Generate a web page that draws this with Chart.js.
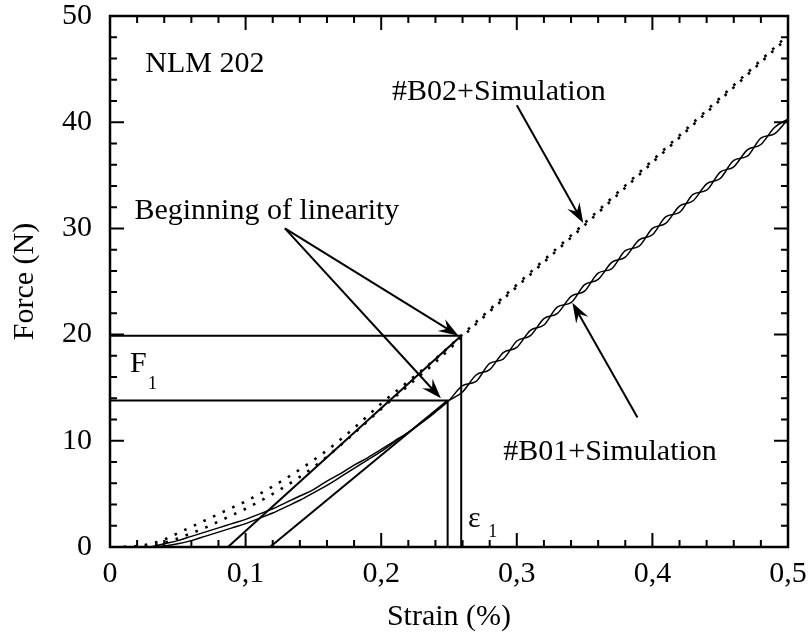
<!DOCTYPE html>
<html>
<head>
<meta charset="utf-8">
<script src="https://cdn.jsdelivr.net/npm/chart.js@4.4.1/dist/chart.umd.min.js"></script>
<style>
    html, body { margin: 0; padding: 0; background: #fff; }
    #chartContainer { width: 811px; height: 637px; position: relative; }
</style>
</head>
<body>
<div id="chartContainer"><canvas id="chartCanvas"></canvas></div>
<script>
// ---- readings from the figure: strain (%) vs force (N) ----
const strainB02 = [0.010, 0.020, 0.030, 0.040, 0.050, 0.060, 0.070, 0.080, 0.090, 0.100,
                   0.120, 0.140, 0.160, 0.180, 0.200, 0.220, 0.240, 0.259, 0.300, 0.350,
                   0.400, 0.450, 0.500];
const forceB02Test = [0.0, 0.1, 0.3, 0.7, 1.3, 1.9, 2.5, 3.1, 3.7, 4.3,
                      5.7, 7.3, 9.1, 11.2, 13.5, 15.6, 17.7, 19.9, 24.7, 30.5,
                      36.4, 42.3, 48.2];
const forceB02Sim = [0.0, 0.0, 0.1, 0.4, 0.8, 1.3, 1.8, 2.4, 3.0, 3.6,
                     5.0, 6.6, 8.5, 10.7, 13.0, 15.2, 17.4, 19.7, 24.5, 30.3,
                     36.2, 42.1, 48.0];

const strainB01 = [0.030, 0.040, 0.050, 0.060, 0.070, 0.080, 0.090, 0.100, 0.110, 0.120,
                   0.130, 0.140, 0.150, 0.160, 0.170, 0.180, 0.190, 0.200, 0.210, 0.220,
                   0.230, 0.240, 0.250, 0.260, 0.270, 0.280, 0.290, 0.300, 0.310, 0.320,
                   0.330, 0.340, 0.350, 0.360, 0.370, 0.380, 0.390, 0.400, 0.410, 0.420,
                   0.430, 0.440, 0.450, 0.460, 0.470, 0.480, 0.490, 0.500];
const forceB01Test = [0.0, 0.3, 0.6, 1.0, 1.4, 1.8, 2.2, 2.6, 3.1, 3.6,
                      4.2, 4.8, 5.4, 6.2, 6.9, 7.7, 8.4, 9.2, 10.0, 10.8,
                      11.7, 12.7, 13.8, 15.2, 15.6, 17.3, 17.7, 19.4, 19.9, 21.5,
                      22.0, 23.6, 24.1, 25.8, 26.2, 27.9, 28.3, 30.0, 30.5, 32.1,
                      32.6, 34.2, 34.7, 36.4, 36.8, 38.5, 38.9, 40.3];
const forceB01Sim = [0.0, 0.1, 0.3, 0.6, 1.0, 1.4, 1.8, 2.2, 2.7, 3.2,
                     3.8, 4.4, 5.1, 5.8, 6.6, 7.4, 8.2, 9.0, 9.9, 10.8,
                     11.8, 12.8, 13.8, 14.6, 16.2, 16.7, 18.3, 18.8, 20.4, 20.9,
                     22.6, 23.0, 24.7, 25.2, 26.8, 27.3, 28.9, 29.4, 31.1, 31.5,
                     33.2, 33.6, 35.3, 35.8, 37.4, 37.9, 39.5, 40.3];

// construction lines (tangents and F1 / eps1 levels)
const tangentB02X = [0.087, 0.259];
const tangentB02Y = [0, 19.9];
const tangentB01X = [0.118, 0.249];
const tangentB01Y = [0, 13.8];
const levelB02X = [0, 0.259, 0.259];
const levelB02Y = [19.9, 19.9, 0];
const levelB01X = [0, 0.249, 0.249];
const levelB01Y = [13.8, 13.8, 0];

// axes
const xMajorTicks = [0, 0.1, 0.2, 0.3, 0.4, 0.5];
const xTickLabels = ['0', '0,1', '0,2', '0,3', '0,4', '0,5'];
const xMinorTicks = [0.02, 0.04, 0.06, 0.08, 0.12, 0.14, 0.16, 0.18, 0.22, 0.24,
                     0.26, 0.28, 0.32, 0.34, 0.36, 0.38, 0.42, 0.44, 0.46, 0.48];
const yMajorTicks = [0, 10, 20, 30, 40, 50];
const yTickLabels = ['0', '10', '20', '30', '40', '50'];
const yMinorTicks = [2, 4, 6, 8, 12, 14, 16, 18, 22, 24, 26, 28, 32, 34, 36, 38, 42, 44, 46, 48];

// annotation arrows: [fromX, fromY, toX, toY] in data units
const arrows = [
    [0.129, 30.0, 0.257, 19.9],
    [0.129, 30.0, 0.244, 14.0],
    [0.300, 41.6, 0.349, 30.5],
    [0.389, 12.2, 0.341, 23.0]
];

// text labels: [text, x, y] (left edge, baseline) in data units
const labels = [
    ['NLM 202', 0.026, 44.7],
    ['#B02+Simulation', 0.208, 42.1],
    ['Beginning of linearity', 0.018, 30.9],
    ['#B01+Simulation', 0.290, 8.2]
];

const FONT = '"Liberation Serif", "Times New Roman", serif';

function pts(xs, ys) {
    return xs.map((v, i) => ({ x: v, y: ys[i] }));
}

function lineSet(xs, ys, width, dash) {
    return {
        data: pts(xs, ys),
        borderColor: '#000',
        borderWidth: width,
        borderDash: dash || [],
        pointRadius: 0,
        fill: false,
        cubicInterpolationMode: 'monotone'
    };
}

/**
 * Frame, inward ticks on all four sides, arrows and text labels
 */
const decorations = {
    id: 'decorations',
    afterDatasetsDraw(chart) {
        const { ctx, chartArea: a, scales: { x, y } } = chart;
        ctx.save();
        ctx.strokeStyle = '#000';
        ctx.fillStyle = '#000';
        ctx.lineCap = 'butt';

        // ticks
        ctx.lineWidth = 2;
        ctx.beginPath();
        const xTick = (v, len) => {
            const px = x.getPixelForValue(v);
            ctx.moveTo(px, a.bottom); ctx.lineTo(px, a.bottom - len);
            ctx.moveTo(px, a.top); ctx.lineTo(px, a.top + len);
        };
        const yTick = (v, len) => {
            const py = y.getPixelForValue(v);
            ctx.moveTo(a.left, py); ctx.lineTo(a.left + len, py);
            ctx.moveTo(a.right, py); ctx.lineTo(a.right - len, py);
        };
        xMajorTicks.forEach(v => xTick(v, 14));
        xMinorTicks.forEach(v => xTick(v, 7));
        yMajorTicks.forEach(v => yTick(v, 14));
        yMinorTicks.forEach(v => yTick(v, 7));
        ctx.stroke();

        // frame
        ctx.lineWidth = 2.5;
        ctx.strokeRect(a.left, a.top, a.width, a.height);

        // arrows
        ctx.lineWidth = 2;
        arrows.forEach(([x1, y1, x2, y2]) => {
            const sx = x.getPixelForValue(x1), sy = y.getPixelForValue(y1);
            const ex = x.getPixelForValue(x2), ey = y.getPixelForValue(y2);
            const ang = Math.atan2(ey - sy, ex - sx);
            const len = 20, half = 7;
            ctx.beginPath();
            ctx.moveTo(sx, sy);
            ctx.lineTo(ex - Math.cos(ang) * 12, ey - Math.sin(ang) * 12);
            ctx.stroke();
            ctx.save();
            ctx.translate(ex, ey);
            ctx.rotate(ang);
            ctx.beginPath();
            ctx.moveTo(0, 0);
            ctx.lineTo(-len, -half);
            ctx.lineTo(-len * 0.65, 0);
            ctx.lineTo(-len, half);
            ctx.closePath();
            ctx.fill();
            ctx.restore();
        });

        // labels
        ctx.textAlign = 'left';
        ctx.textBaseline = 'alphabetic';
        ctx.font = '30px ' + FONT;
        labels.forEach(([t, lx, ly]) => {
            ctx.fillText(t, x.getPixelForValue(lx), y.getPixelForValue(ly));
        });

        // F1 and eps1 with subscripts
        ctx.fillText('F', x.getPixelForValue(0.0147), y.getPixelForValue(16.5));
        ctx.fillText('\u03b5', x.getPixelForValue(0.264), y.getPixelForValue(1.9));
        ctx.font = '18px ' + FONT;
        ctx.fillText('1', x.getPixelForValue(0.0280), y.getPixelForValue(14.9));
        ctx.fillText('1', x.getPixelForValue(0.2790), y.getPixelForValue(0.95));
        ctx.restore();
    }
};

const ctx = document.getElementById('chartCanvas').getContext('2d');

new Chart(ctx, {
    type: 'line',
    data: {
        datasets: [
            lineSet(levelB02X, levelB02Y, 2),
            lineSet(levelB01X, levelB01Y, 2),
            lineSet(tangentB02X, tangentB02Y, 2),
            lineSet(tangentB01X, tangentB01Y, 2),
            lineSet(strainB02, forceB02Test, 2.6, [2.6, 8]),
            lineSet(strainB02, forceB02Sim, 2.6, [2.6, 8]),
            lineSet(strainB01, forceB01Test, 1.5),
            lineSet(strainB01, forceB01Sim, 1.5)
        ]
    },
    options: {
        responsive: true,
        maintainAspectRatio: false,
        animation: false,
        layout: { padding: { top: 16, right: 23, left: 0, bottom: 0 } },
        plugins: {
            legend: { display: false },
            tooltip: { enabled: false }
        },
        scales: {
            x: {
                type: 'linear',
                min: 0,
                max: 0.5,
                grid: { display: false, drawTicks: false },
                border: { display: false },
                afterFit(scale) {
                    scale.height = 90;
                    scale.paddingLeft = 0;
                    scale.paddingRight = 0;
                },
                afterBuildTicks(scale) {
                    scale.ticks = xMajorTicks.map(v => ({ value: v }));
                },
                ticks: {
                    padding: 12,
                    color: '#000',
                    maxRotation: 0,
                    font: { family: FONT, size: 30, lineHeight: 1 },
                    callback: (value, index) => xTickLabels[index]
                },
                title: {
                    display: true,
                    text: 'Strain (%)',
                    color: '#000',
                    padding: { top: 0, bottom: 5 },
                    font: { family: FONT, size: 30, lineHeight: 1 }
                }
            },
            y: {
                type: 'linear',
                min: 0,
                max: 50,
                grid: { display: false, drawTicks: false },
                border: { display: false },
                afterFit(scale) {
                    scale.width = 110;
                    scale.paddingTop = 0;
                    scale.paddingBottom = 0;
                },
                afterBuildTicks(scale) {
                    scale.ticks = yMajorTicks.map(v => ({ value: v }));
                },
                ticks: {
                    padding: 18,
                    color: '#000',
                    font: { family: FONT, size: 30, lineHeight: 1 },
                    callback: (value, index) => yTickLabels[index]
                },
                title: {
                    display: true,
                    text: 'Force (N)',
                    color: '#000',
                    padding: { top: 10, bottom: 0 },
                    font: { family: FONT, size: 30, lineHeight: 1 }
                }
            }
        }
    },
    plugins: [decorations]
});
</script>
</body>
</html>
